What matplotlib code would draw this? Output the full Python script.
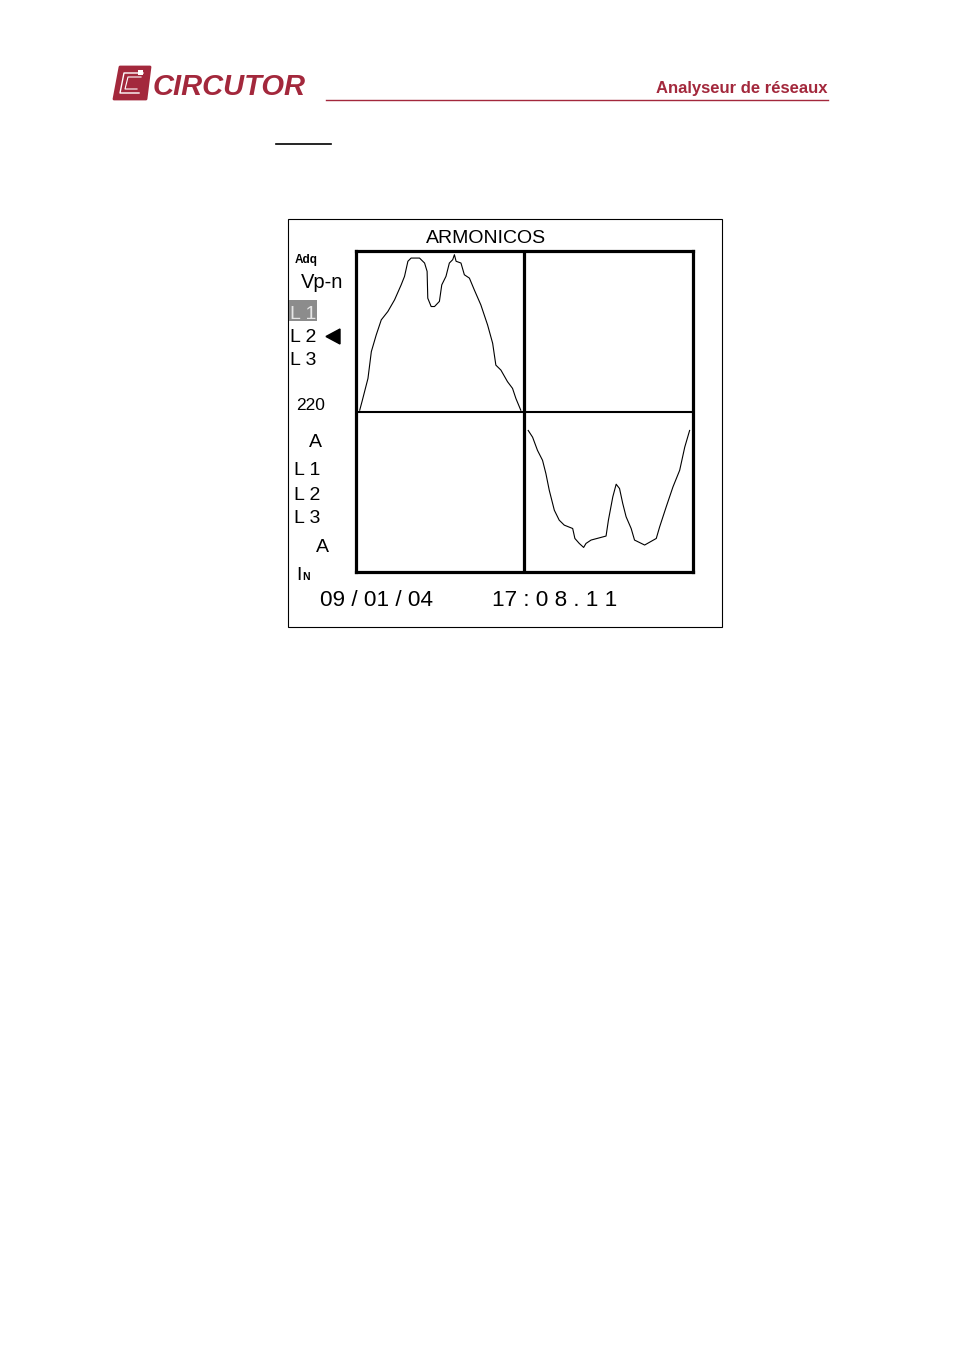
import matplotlib
matplotlib.use("Agg")
import matplotlib.pyplot as plt
from matplotlib.patches import Rectangle, Polygon

# ---------------- data ----------------
# Upper-left panel: phase-neutral voltage, x = % of panel width, y = % of half-scale
vn_t = [2.2, 3.6, 7.1, 9.1, 12.0, 15.0, 18.9, 22.9, 26.8, 28.8, 30.8, 32.7, 37.7, 40.7,
        42.2, 42.6, 44.6, 46.6, 49.5, 50.9, 53.4, 55.4, 57.4, 58.4, 59.4, 62.3, 64.3,
        67.3, 70.2, 74.1, 78.1, 81.1, 83.0, 86.0, 89.9, 92.9, 94.9, 97.8]
vn_val = [0.8, 6.3, 20.6, 37.3, 47.7, 57.1, 62.3, 69.6, 78.9, 84.2, 93.6, 95.6, 95.6, 92.5,
          87.3, 70.6, 65.4, 65.4, 68.6, 78.9, 84.2, 92.5, 94.6, 97.7, 93.6, 92.5, 85.2,
          83.1, 75.8, 66.4, 53.9, 42.5, 28.9, 25.8, 18.6, 14.4, 8.1, 0.8]
# Lower-right panel: current, x = 100 + % of panel width, y = % of half-scale (negative)
in_t = [102.2, 104.8, 107.7, 110.7, 112.7, 114.7, 117.7, 120.6, 123.6, 128.6, 129.9,
        132.5, 135.1, 136.5, 139.5, 148.4, 149.8, 152.4, 154.4, 156.4, 158.3, 160.3,
        163.3, 165.3, 171.3, 178.2, 180.2, 184.1, 188.1, 192.1, 195.1, 198.0]
in_val = [-11.8, -16.0, -24.2, -30.4, -38.7, -49.1, -61.5, -67.7, -70.8, -72.9, -79.1,
          -82.2, -84.7, -82.2, -80.1, -77.6, -67.7, -53.2, -45.3, -48.0, -57.3, -65.6,
          -72.9, -80.1, -83.2, -79.1, -71.9, -59.4, -47.0, -36.6, -22.2, -11.8]

title = "ARMONICOS"
header_right = "Analyseur de réseaux"
brand = "CIRCUTOR"
upper_labels = ["Adq", "Vp-n", "L 1", "L 2", "L 3", "220"]
lower_labels = ["A", "L 1", "L 2", "L 3", "A"]
date_txt = "09 / 01 / 04"
time_txt = "17 : 0 8 . 1 1"

RED = "#a3283c"
FONT = "Liberation Sans"

W, H = 954, 1350
fig = plt.figure(figsize=(W / 100, H / 100), dpi=100)

# overlay axes in pixel coordinates
ov = fig.add_axes([0, 0, 1, 1])
ov.set_xlim(0, W)
ov.set_ylim(H, 0)
ov.axis("off")

# ---- header ----
ov.add_patch(Polygon([(120, 67), (150, 67), (146, 99), (114, 99)], closed=True,
                     facecolor=RED, edgecolor=RED, lw=2, joinstyle="round"))
ov.plot([143, 124, 120, 139], [73, 73, 93, 93], color="white", lw=1.0)
ov.plot([141, 128, 125, 137], [77, 77, 89, 89], color="white", lw=0.8)
ov.add_patch(Rectangle((138, 70), 5, 5, facecolor="white", edgecolor="none"))
ov.text(153, 95, brand, color=RED, fontsize=21, fontweight="bold", style="italic",
        family=FONT, ha="left", va="baseline")
ov.text(828, 93, header_right, color=RED, fontsize=12, fontweight="bold",
        family=FONT, ha="right", va="baseline")
ov.plot([326, 828], [100, 100], color=RED, lw=1.0)
ov.plot([276, 331], [144, 144], color="black", lw=1.2)

# ---- screen box ----
ov.add_patch(Rectangle((288, 219), 434, 408, facecolor="none", edgecolor="black", lw=0.8))
ov.text(486, 243, title, fontsize=14, family=FONT, ha="center", va="baseline")

# left labels upper
ov.text(295, 263, upper_labels[0], fontsize=8.5, fontweight="bold", family=FONT,
        ha="left", va="baseline")
ov.text(301, 288, upper_labels[1], fontsize=14.5, family=FONT, ha="left", va="baseline")
ov.add_patch(Rectangle((289, 300), 28, 21, facecolor="#8c8c8c", edgecolor="none"))
ov.text(290, 319, upper_labels[2], fontsize=14, family=FONT, color="#e6e6e6",
        ha="left", va="baseline")
ov.text(290, 342, upper_labels[3], fontsize=14, family=FONT, ha="left", va="baseline")
ov.add_patch(Polygon([(326, 336.5), (340, 329), (340, 344)], closed=True,
                     facecolor="black", edgecolor="black"))
ov.text(290, 365, upper_labels[4], fontsize=14, family=FONT, ha="left", va="baseline")
ov.text(296, 410, upper_labels[5], fontsize=12.5, family=FONT, ha="left", va="baseline")

# left labels lower
ov.text(309, 447, lower_labels[0], fontsize=14, family=FONT, ha="left", va="baseline")
ov.text(294, 475, lower_labels[1], fontsize=14, family=FONT, ha="left", va="baseline")
ov.text(294, 500, lower_labels[2], fontsize=14, family=FONT, ha="left", va="baseline")
ov.text(294, 523, lower_labels[3], fontsize=14, family=FONT, ha="left", va="baseline")
ov.text(316, 552, lower_labels[4], fontsize=14, family=FONT, ha="left", va="baseline")
ov.text(296, 580, "I", fontsize=14, family=FONT, ha="left", va="baseline")
ov.text(302, 580, "N", fontsize=7.5, fontweight="bold", family=FONT, ha="left", va="baseline")

# date / time
ov.text(320, 606, date_txt, fontsize=16.2, family=FONT, ha="left", va="baseline")
ov.text(492, 606, time_txt, fontsize=16.2, family=FONT, ha="left", va="baseline")

# ---- waveform grid ----
gl, gr, gt, gb = 356, 693, 251, 572
ax = fig.add_axes([gl / W, 1 - gb / H, (gr - gl) / W, (gb - gt) / H])
ax.set_xlim(0, 200)
ax.set_ylim(-100, 100)
ax.set_facecolor("none")
ax.set_xticks([])
ax.set_yticks([])
for s in ax.spines.values():
    s.set_linewidth(2.3)
    s.set_color("black")
ax.axvline(100, color="black", lw=2.3)
ax.axhline(0, color="black", lw=1.5)
ax.plot(vn_t, vn_val, color="black", lw=0.8)
ax.plot(in_t, in_val, color="black", lw=0.8)

fig.savefig("out.png", dpi=100)
